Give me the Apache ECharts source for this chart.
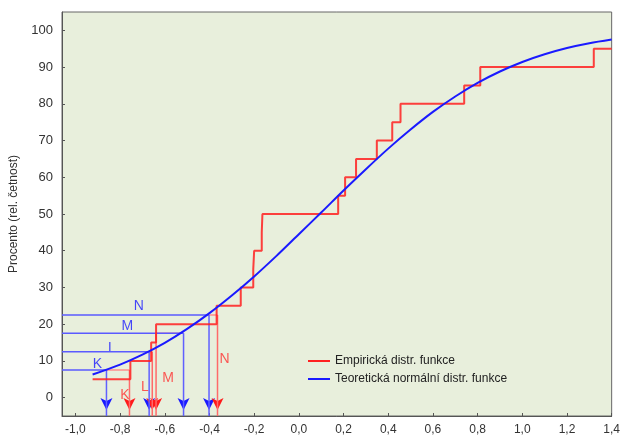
<!DOCTYPE html>
<html>
<head>
<meta charset="utf-8">
<script src="https://cdn.jsdelivr.net/npm/echarts@6/dist/echarts.min.js"></script>
<style>
  html, body { margin: 0; padding: 0; background: #fff; }
  #chart { width: 623px; height: 439px; }
</style>
</head>
<body>
<div id="chart"></div>
<script>
  // empiricka distribucni funkce (skoky)
  const empX = [-0.923, -0.754, -0.661, -0.639, -0.368, -0.260, -0.204, -0.200, -0.166, -0.163,
                0.176, 0.207, 0.256, 0.349, 0.418, 0.455, 0.740, 0.812, 1.320, 1.4];
  const empY = [5, 10, 15, 20, 25, 30, 35, 40, 45, 50, 55, 60, 65, 70, 75, 80, 85, 90, 95, 95];

  // teoreticka normalni distr. funkce
  const normX = [-0.923, -0.8, -0.7, -0.6, -0.5, -0.4, -0.3, -0.2, -0.1, 0, 0.1, 0.2, 0.3, 0.4, 0.5,
                 0.6, 0.7, 0.8, 0.9, 1.0, 1.1, 1.2, 1.3, 1.4];
  const normY = [6.3, 9.0, 11.7, 14.9, 18.7, 23.0, 27.8, 33.0, 38.6, 44.5, 50.4, 56.4, 62.2, 67.8, 73.0,
                 77.8, 82.0, 85.7, 88.8, 91.4, 93.5, 95.2, 96.5, 97.5];

  // kvantily K, L, M, N
  const qNames = ['K', 'L', 'M', 'N'];
  const qLevel = [7.5, 12.5, 17.5, 22.5];
  const qNorm = [-0.861, -0.670, -0.516, -0.402];
  const qEmp = [-0.758, -0.656, -0.639, -0.364];
  const qBlueLabelX = [-0.901, -0.837, -0.768, -0.716];
  const qBlueLabelY = [9.0, 13.5, 19.6, 24.8];
  const qRedLabelX = [-0.778, -0.689, -0.585, -0.333];
  const qRedLabelY = [0.8, 2.9, 5.2, 10.5];

  const xTicks = [-1.0, -0.8, -0.6, -0.4, -0.2, 0, 0.2, 0.4, 0.6, 0.8, 1.0, 1.2, 1.4];
  const yTicks = [0, 10, 20, 30, 40, 50, 60, 70, 80, 90, 100];

  const xMin = -1.06, xMax = 1.4, yMin = -5, yMax = 105;
  const font = '"Liberation Sans", Arial, sans-serif';

  let chart = echarts.init(document.getElementById('chart'));

  // usecka mezi dvema body
  function seg(p0, p1, color, width) {
    return {
      type: 'line',
      silent: true,
      showSymbol: false,
      symbol: 'none',
      color: color,
      lineStyle: { color: color, width: width },
      data: [p0, p1]
    };
  }

  // hroty sipek na ose x
  function arrowHeads(xs, color) {
    return {
      type: 'scatter',
      silent: true,
      clip: false,
      symbol: 'arrow',
      symbolSize: [9, 12],
      symbolRotate: 180,
      symbolOffset: [0, -6],
      itemStyle: { color: color, opacity: 1 },
      data: xs.map(x => [x, yMin])
    };
  }

  const quantSeries = [];
  qLevel.forEach((l, i) => {
    quantSeries.push(seg([qNorm[i], l], [qEmp[i], l], '#ff8c8c', 1.5));
    quantSeries.push(seg([xMin, l], [qNorm[i], l], '#5a5aff', 1.5));
    quantSeries.push(seg([qEmp[i], l], [qEmp[i], yMin], '#ff6a6a', 1.5));
    quantSeries.push(seg([qNorm[i], l], [qNorm[i], yMin], '#6060ff', 1.5));
  });

  chart.setOption({
    animation: false,
    textStyle: { fontFamily: font },
    grid: {
      left: 59, right: 10, top: 12, bottom: 23,
      show: true,
      backgroundColor: '#e8efdc',
      borderColor: '#666',
      borderWidth: 1
    },
    legend: {
      left: 303, top: 350,
      orient: 'vertical',
      itemWidth: 22, itemHeight: 2, itemGap: 6,
      icon: 'rect',
      data: ['Empirická distr. funkce', 'Teoretická normální distr. funkce'],
      textStyle: { fontFamily: font, fontSize: 12, color: '#222' }
    },
    xAxis: {
      type: 'value',
      min: xMin, max: xMax,
      splitLine: { show: false },
      axisLine: { show: true, onZero: false, lineStyle: { color: '#555' } },
      axisTick: { show: true, inside: true, length: 3, customValues: xTicks, lineStyle: { color: '#555' } },
      axisLabel: {
        customValues: xTicks, margin: 8,
        fontSize: 12, color: '#333', fontFamily: font,
        formatter: v => v.toFixed(1).replace('.', ',')
      }
    },
    yAxis: {
      type: 'value',
      min: yMin, max: yMax,
      name: 'Procento (rel. četnost)',
      nameLocation: 'middle',
      nameGap: 42,
      nameTextStyle: { fontSize: 12, color: '#333', fontFamily: font },
      splitLine: { show: false },
      axisLine: { show: true, onZero: false, lineStyle: { color: '#555' } },
      axisTick: { show: true, inside: true, length: 3, customValues: yTicks, lineStyle: { color: '#555' } },
      axisLabel: { customValues: yTicks, margin: 9, fontSize: 13, color: '#333', fontFamily: font }
    },
    series: quantSeries.concat([
      arrowHeads(qNorm, '#1a1aff'),
      arrowHeads(qEmp, '#ff1a1a'),
      {
        name: 'Empirická distr. funkce',
        type: 'line',
        step: 'end',
        showSymbol: false,
        symbol: 'none',
        color: '#ff2020',
        lineStyle: { color: '#ff2020', width: 2, opacity: 0.85 },
        data: empX.map((x, i) => [x, empY[i]])
      },
      {
        name: 'Teoretická normální distr. funkce',
        type: 'line',
        smooth: 0.3,
        showSymbol: false,
        symbol: 'none',
        color: '#1a1aff',
        lineStyle: { color: '#1a1aff', width: 2 },
        data: normX.map((x, i) => [x, normY[i]])
      },
      {
        type: 'scatter',
        symbolSize: 0,
        silent: true,
        label: {
          show: true, position: 'inside',
          formatter: p => qNames[p.dataIndex],
          color: '#1a1aff', fontSize: 14, fontFamily: font
        },
        data: qBlueLabelX.map((x, i) => [x, qBlueLabelY[i]])
      },
      {
        type: 'scatter',
        symbolSize: 0,
        silent: true,
        label: {
          show: true, position: 'inside',
          formatter: p => qNames[p.dataIndex],
          color: '#ff3030', fontSize: 14, fontFamily: font
        },
        data: qRedLabelX.map((x, i) => [x, qRedLabelY[i]])
      }
    ])
  });
</script>
</body>
</html>
